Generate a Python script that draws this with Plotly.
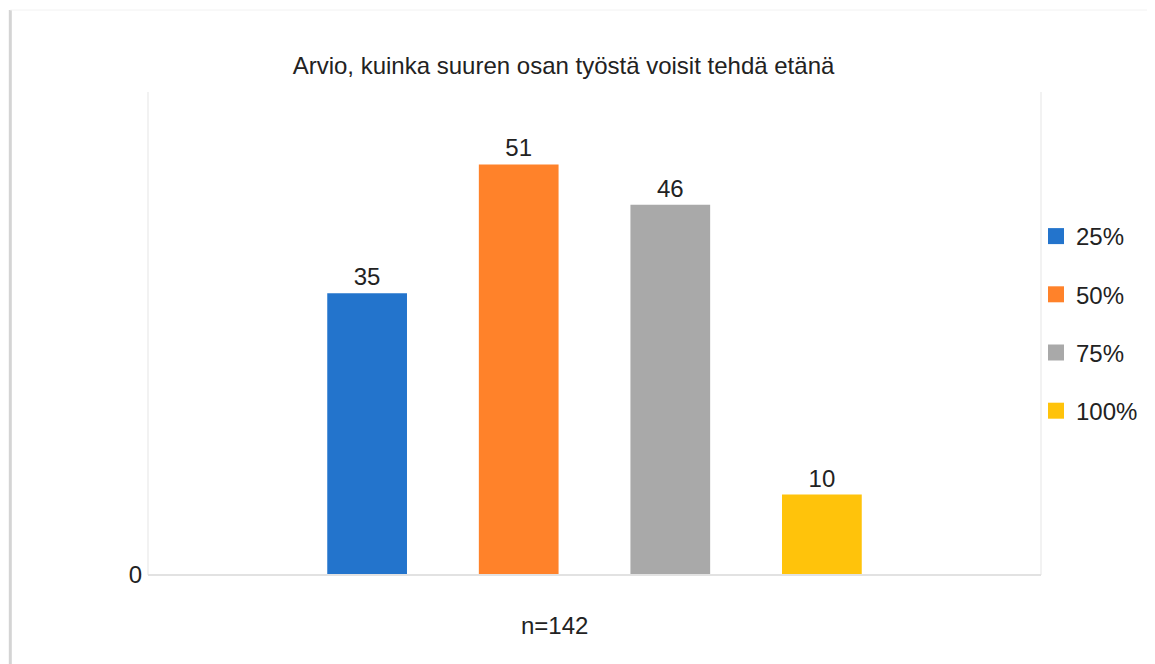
import plotly.graph_objects as go

title_text = "Arvio, kuinka suuren osan työstä voisit tehdä etänä"
category = ["n=142"]
n_label = "n=142"
series_names = ["25%", "50%", "75%", "100%"]
series_values = [35, 51, 46, 10]
series_colors = ["#2374CC", "#FF822A", "#A9A9A9", "#FFC30B"]

FONT = "Liberation Sans, Arial, sans-serif"
TXT = "#222222"

# figure is placed by the page with an 8px body margin -> work in figure coords
W, H = 1147, 656
L, R, T, B = 140, 112, 84, 89
PW, PH = W - L - R, H - T - B


def px(fx):
    return (fx - L) / PW


def py(fy):
    return (H - B - fy) / PH


fig = go.Figure()
for name, val, col in zip(series_names, series_values, series_colors):
    fig.add_trace(go.Bar(
        x=category, y=[val], name=name,
        marker=dict(color=col, line=dict(width=0)),
        text=[str(val)], textposition="outside",
        textfont=dict(size=24, color=TXT, family=FONT),
        cliponaxis=False, showlegend=False, legendgroup=name,
    ))
    fig.add_trace(go.Scatter(
        x=[None], y=[None], mode="markers", name=name,
        marker=dict(symbol="square", size=22, color=col),
        showlegend=True, legendgroup=name,
    ))

fig.update_layout(
    width=W, height=H,
    paper_bgcolor="white", plot_bgcolor="white",
    font=dict(family=FONT, size=24, color=TXT),
    margin=dict(l=L, r=R, t=T, b=B),
    barmode="group", bargap=0.321, bargroupgap=0.474,
    title=dict(text=title_text, x=555.5 / W, xanchor="center", y=1 - 58 / H, yanchor="middle",
               font=dict(size=24, color=TXT, family=FONT)),
    legend=dict(x=px(1030), xanchor="left", y=py(206), yanchor="top",
                font=dict(size=24, color=TXT), traceorder="grouped",
                tracegroupgap=24, itemclick=False, bgcolor="rgba(0,0,0,0)"),
    xaxis=dict(showgrid=False, showline=False, ticks="", showticklabels=False),
    yaxis=dict(range=[0, 60], tickvals=[0], ticktext=["0"], showgrid=False, zeroline=False,
               showline=False, ticks="", ticklabelstandoff=5,
               tickfont=dict(size=24, color=TXT)),
    annotations=[
        dict(text=n_label, xref="paper", yref="paper", x=px(547), y=py(617),
             xanchor="center", yanchor="middle", showarrow=False,
             font=dict(size=24, color=TXT, family=FONT)),
    ],
    shapes=[
        # plot frame (very light)
        dict(type="line", xref="paper", yref="paper", x0=0, x1=0, y0=0, y1=1,
             line=dict(color="#EEEEEE", width=1.5)),
        dict(type="line", xref="paper", yref="paper", x0=1, x1=1, y0=0, y1=1,
             line=dict(color="#EEEEEE", width=1.5)),
        dict(type="line", xref="paper", yref="paper", x0=0, x1=1, y0=0, y1=0,
             line=dict(color="#E2E2E2", width=2)),
        # page borders
        dict(type="line", xref="paper", yref="paper", x0=px(2), x1=px(2), y0=py(H), y1=py(2),
             line=dict(color="#D4D4D4", width=3)),
        dict(type="line", xref="paper", yref="paper", x0=px(2), x1=px(W), y0=py(2), y1=py(2),
             line=dict(color="#F2F2F2", width=1)),
    ],
)

fig.write_html("out.html")
